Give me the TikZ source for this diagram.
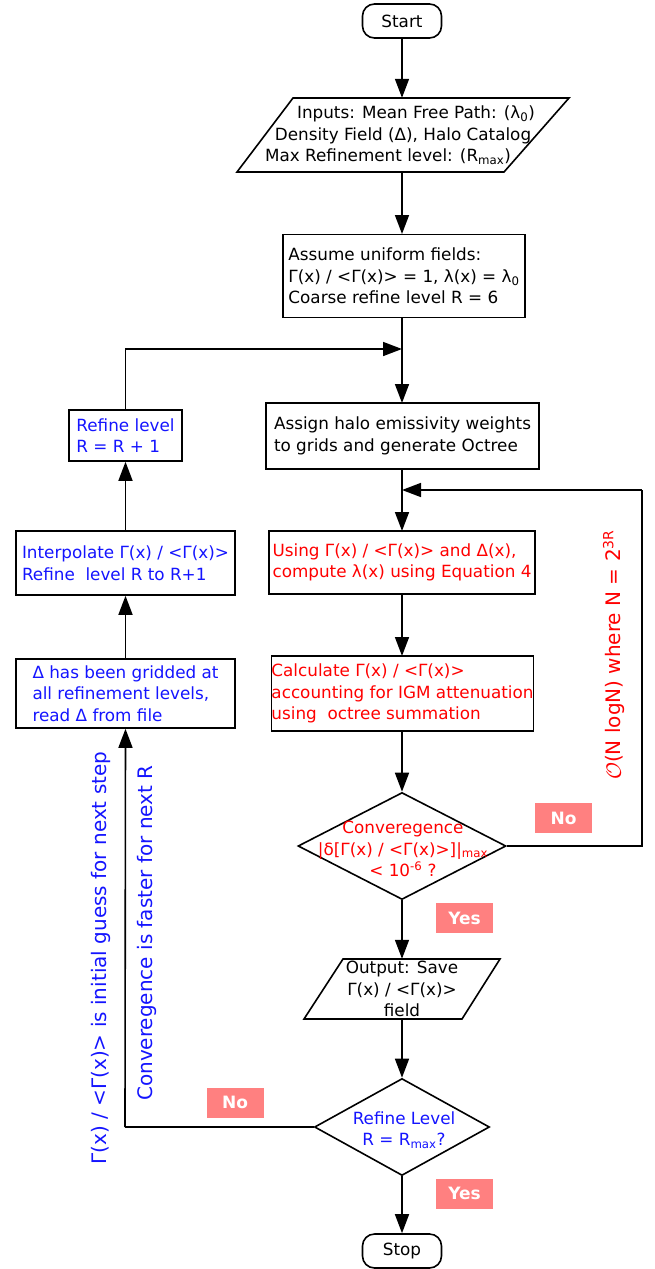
\documentclass[tikz,border=0pt]{standalone}
\usepackage{fontspec}
\setmainfont{DejaVu Sans}
\usetikzlibrary{arrows.meta,shapes.geometric}
\definecolor{pinklab}{RGB}{255,128,128}
\definecolor{txtblue}{RGB}{20,20,255}
\definecolor{txtred}{RGB}{255,0,0}
\begin{document}
\begin{tikzpicture}[x=1pt,y=-1pt,
  every node/.style={font=\fontsize{16.8pt}{21.5pt}\selectfont, inner sep=0pt},
  shapeline/.style={draw, line width=1.6pt},
  box/.style={shapeline, align=left},
  term/.style={shapeline, rounded corners=12pt, minimum width=79pt, minimum height=34pt},
  dia/.style={shapeline, diamond},
  lab/.style={fill=pinklab, text=white, font=\fontsize{17pt}{21.5pt}\selectfont\bfseries, minimum width=57pt, minimum height=30pt},
  rot/.style={rotate=90, font=\fontsize{20pt}{24pt}\selectfont},
  arr/.style={line width=1.6pt, -{Triangle[length=19pt,width=14pt]}},
  conn/.style={line width=1.6pt}
]
\useasboundingbox (0,0) rectangle (654,1269);

% main column
\node[term] (start) at (402,21) {Start};
\node[align=center, minimum width=200pt, minimum height=74pt] (inputs) at (403,135)
  {\hspace*{26pt}Inputs: Mean Free Path: (λ\textsubscript{0})\\Density Field (Δ), Halo Catalog\\Max Refinement level: (R\textsubscript{max})\hspace*{30pt}};
\draw[shapeline] (293,98) -- (569,98) -- (504,172) -- (237,172) -- cycle;
\node[box, minimum width=242pt, minimum height=83pt] (assume) at (404,276)
  {Assume uniform fields:\\Γ(x) / <Γ(x)> = 1, λ(x) = λ\textsubscript{0}\\Coarse refine level R = 6};
\node[box, minimum width=273pt, minimum height=66pt] (assign) at (402.5,436)
  {Assign halo emissivity weights\\to grids and generate Octree};
\node[box, text=txtred, minimum width=266pt, minimum height=63pt] (using) at (402,562.5)
  {Using Γ(x) / <Γ(x)> and Δ(x),\\compute λ(x) using Equation 4};
\node[box, text=txtred, minimum width=257pt, minimum height=75pt] (calc) at (402.5,693.5)
  {Calculate Γ(x) / <Γ(x)>\\accounting for IGM attenuation\\using~ octree summation};
\node[dia, minimum width=208pt, minimum height=107pt] (conv) at (402,846) {};
\node[align=center, text=txtred] (convtext) at (403,849)
  {Converegence\\|δ[Γ(x) / <Γ(x)>]|\textsubscript{max}\\< 10\textsuperscript{-6} ?};
\node[align=center, minimum width=150pt, minimum height=60pt] (output) at (402,989)
  {Output: Save\\Γ(x) / <Γ(x)>\\field};
\draw[shapeline] (343,959) -- (500,959) -- (462,1019) -- (304,1019) -- cycle;
\node[dia, minimum width=175pt, minimum height=97pt] (refdia) at (402,1127) {};
\node[align=center, text=txtblue] (reftext) at (404,1130)
  {Refine Level\\R = R\textsubscript{max}?};
\node[term] (stop) at (402,1251) {Stop};

% left column
\node[box, text=txtblue, minimum width=113pt, minimum height=51pt] (refine) at (125.5,435.5)
  {Refine level\\R = R + 1};
\node[box, text=txtblue, minimum width=219pt, minimum height=64pt] (interp) at (125.5,563)
  {Interpolate Γ(x) / <Γ(x)>\\Refine~ level R to R+1};
\node[box, text=txtblue, minimum width=219pt, minimum height=69pt] (delta) at (125.5,693.5)
  {Δ has been gridded at\\all refinement levels,\\read Δ from file};

% labels
\node[lab] (no1) at (563.5,818) {No};
\node[lab] (yes1) at (464.5,918) {Yes};
\node[lab] (no2) at (235,1102.5) {No};
\node[lab] (yes2) at (464.5,1193.5) {Yes};
\node[rot, text=txtblue] (guess) at (101,958) {Γ(x) / <Γ(x)> is initial guess for next step};
\node[rot, text=txtblue] (faster) at (147,933) {Converegence is faster for next R};
\node[rot, text=txtred] (cost) at (614,655) {$\mathcal{O}$(N logN) where N = 2\textsuperscript{3R}};

% coordinates
\coordinate (join) at (402,349);
\coordinate (fbcorner) at (642,490);
\coordinate (fbend) at (402,490);
\coordinate (leftcorner) at (125,1127);

% connectors
\draw[arr] (start.south) -- (start.south |- inputs.north);
\draw[arr] (402,172) -- (402,234);
\draw[arr] (402,317) -- (402,403);
\draw[arr] (refine.north) |- (join);
\draw[arr] (402,469) -- (402,531);
\draw[arr] (using) -- (402,656);
\draw[arr] (402,731) -- (conv.north);
\draw[conn] (conv.east) -| (fbcorner);
\draw[arr] (fbcorner) -- (fbend);
\draw[arr] (conv.south) -- (output);
\draw[arr] (output) -- (refdia.north);
\draw[arr] (refdia.south) -- (stop);
\draw[conn] (refdia.west) -- (leftcorner);
\draw[arr] (leftcorner) -- (delta.south);
\draw[arr] (delta) -- (interp);
\draw[arr] (interp) -- (refine);
\end{tikzpicture}
\end{document}
